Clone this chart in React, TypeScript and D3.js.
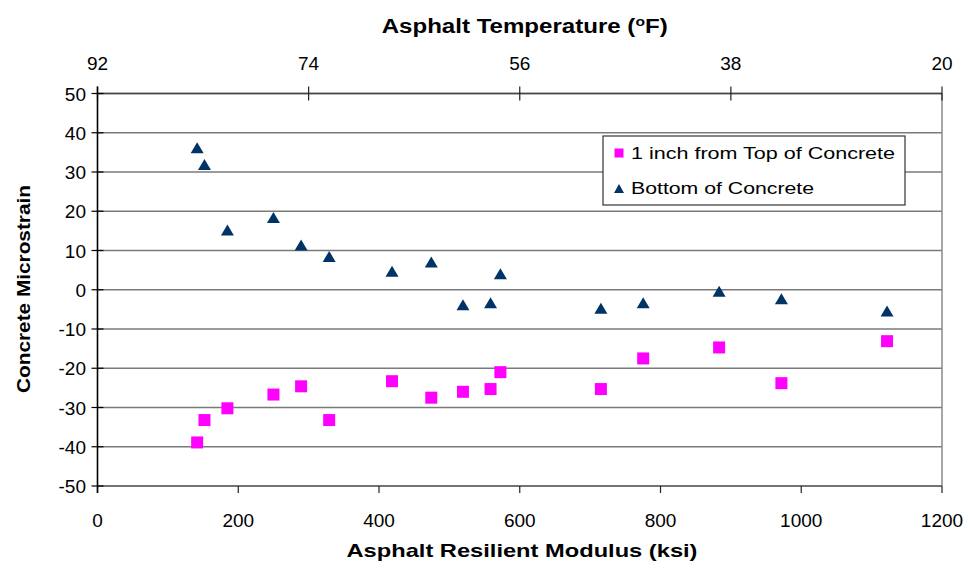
import React, { useEffect } from 'react';
import * as d3 from 'd3';

const modulus = [141.6, 152, 184.6, 250, 289.3, 329.2, 418.5, 474.3, 519.3, 558.5, 572.5, 715.3, 775.4, 883.3, 971.8, 1121.9];
const topOfConcrete = [-38.9, -33.2, -30.2, -26.7, -24.6, -33.2, -23.3, -27.5, -26.0, -25.3, -21.0, -25.3, -17.5, -14.7, -23.8, -13.1];
const bottomOfConcrete = [36.2, 31.9, 15.2, 18.4, 11.4, 8.5, 4.7, 7.1, -3.8, -3.3, 4.1, -4.7, -3.3, -0.4, -2.3, -5.4];
const xTicks = [0, 200, 400, 600, 800, 1000, 1200];
const yTicks = [-50, -40, -30, -20, -10, 0, 10, 20, 30, 40, 50];
const tempTicks = [92, 74, 56, 38, 20];
const seriesNames = ['1 inch from Top of Concrete', 'Bottom of Concrete'];

const W = 969, H = 561;
const L = 97.5, R = 942, T = 93.5, B = 486;
const FONT = '"Liberation Sans", Arial, sans-serif';
const MAGENTA = '#FF00FF';
const NAVY = '#003366';

const tri = (cx: number, cy: number, w: number, h: number) =>
  `M${cx - w / 2},${cy + h / 2}L${cx},${cy - h / 2}L${cx + w / 2},${cy + h / 2}Z`;

export default function App() {
  useEffect(() => { document.body.style.margin = '0'; }, []);
  const x = d3.scaleLinear().domain([0, 1200]).range([L, R]);
  const y = d3.scaleLinear().domain([-50, 50]).range([B, T]);
  const xt = d3.scaleLinear().domain([92, 20]).range([L, R]);

  return (
    <svg width={W} height={H} style={{ position: 'absolute', left: 0, top: 0, background: '#fff' }} fontFamily={FONT}>
      <rect x={0} y={0} width={W} height={H} fill="#fff" />
      {/* gridlines */}
      {yTicks.map(v => (
        <line key={'g' + v} x1={L} x2={R} y1={y(v)} y2={y(v)} stroke="#7a7a7a" strokeWidth={1.6} />
      ))}
      {/* right border */}
      <line x1={R} x2={R} y1={T} y2={B} stroke="#8a8a8a" strokeWidth={1.5} />
      {/* top axis */}
      <line x1={L} x2={R} y1={T} y2={T} stroke="#444" strokeWidth={1.6} />
      {tempTicks.map(v => (
        <g key={'t' + v}>
          <line x1={xt(v)} x2={xt(v)} y1={T - 7} y2={T + 7} stroke="#222" strokeWidth={1.2} />
          <text x={xt(v)} y={70} textAnchor="middle" fontSize={19} fill="#000">{v}</text>
        </g>
      ))}
      {/* bottom axis */}
      <line x1={L} x2={R} y1={B} y2={B} stroke="#666" strokeWidth={1.6} />
      {xTicks.map(v => (
        <g key={'x' + v}>
          <line x1={x(v)} x2={x(v)} y1={B} y2={B + 7} stroke="#222" strokeWidth={1.2} />
          <text x={x(v)} y={527} textAnchor="middle" fontSize={19} fill="#000">{v}</text>
        </g>
      ))}
      {/* left axis */}
      <line x1={L} x2={L} y1={T - 7} y2={B + 7} stroke="#000" strokeWidth={1.6} />
      {yTicks.map(v => (
        <g key={'y' + v}>
          <line x1={L - 6} x2={L + 6} y1={y(v)} y2={y(v)} stroke="#000" strokeWidth={1.2} />
          <text x={86} y={y(v) + 7} textAnchor="end" fontSize={19} fill="#000">{v}</text>
        </g>
      ))}
      {/* titles */}
      <text x={524.7} y={33} textAnchor="middle" fontSize={20} fontWeight="bold" textLength={286} lengthAdjust="spacingAndGlyphs">
        Asphalt Temperature (<tspan fontSize={13} dy={-7}>o</tspan><tspan dy={7}>F)</tspan>
      </text>
      <text x={522} y={557} textAnchor="middle" fontSize={19} fontWeight="bold" textLength={351} lengthAdjust="spacingAndGlyphs">
        Asphalt Resilient Modulus (ksi)
      </text>
      <text transform={`translate(30,289) rotate(-90)`} textAnchor="middle" fontSize={18} fontWeight="bold" textLength={208} lengthAdjust="spacingAndGlyphs">
        Concrete Microstrain
      </text>
      {/* data */}
      {modulus.map((m, i) => (
        <rect key={'s' + i} x={x(m) - 6} y={y(topOfConcrete[i]) - 6} width={12} height={12} fill={MAGENTA} />
      ))}
      {modulus.map((m, i) => (
        <path key={'p' + i} d={tri(x(m), y(bottomOfConcrete[i]), 13, 11)} fill={NAVY} />
      ))}
      {/* legend */}
      <rect x={603} y={136} width={302} height={69} fill="#fff" stroke="#333" strokeWidth={1.2} />
      <rect x={614.5} y={148.5} width={9} height={9} fill={MAGENTA} />
      <text x={631} y={158.5} fontSize={16.5} textLength={264} lengthAdjust="spacingAndGlyphs">{seriesNames[0]}</text>
      <path d={tri(619, 188.5, 10, 9)} fill={NAVY} />
      <text x={631} y={194} fontSize={16.5} textLength={183} lengthAdjust="spacingAndGlyphs">{seriesNames[1]}</text>
    </svg>
  );
}
